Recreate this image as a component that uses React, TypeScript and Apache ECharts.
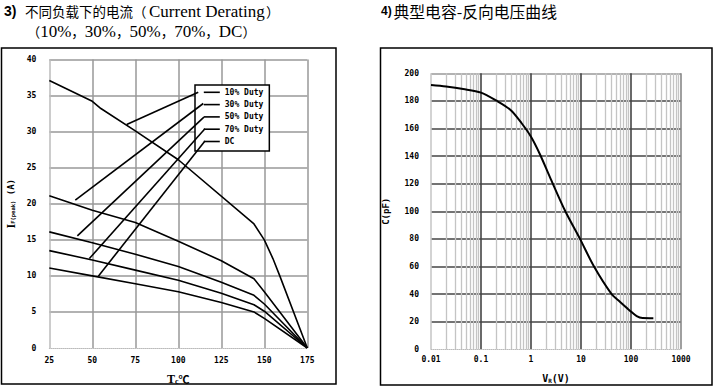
import { useEffect, useRef } from 'react';
import * as echarts from 'echarts';

// ---- Chart 3: current derating ----
const deratingNames = ['10% Duty', '30% Duty', '50% Duty', '70% Duty', 'DC'];
const temp10 = [25, 50, 55, 75, 100, 144, 150, 155, 159, 175];
const duty10 = [37.1, 34.2, 33.2, 30.1, 26.1, 17.2, 15.0, 12.4, 10.0, 0];
const tempOther = [25, 50, 75, 100, 125, 144, 150, 175];
const duty30 = [21.1, 19.1, 17.4, 14.8, 12.1, 9.6, 7.8, 0];
const duty50 = [16.1, 14.6, 13.0, 11.3, 9.1, 7.3, 6.1, 0];
const duty70 = [13.5, 12.2, 10.8, 9.4, 7.6, 6.0, 5.1, 0];
const dutyDC = [11.1, 10.0, 8.9, 7.8, 6.3, 5.0, 4.1, 0];

// leader lines: curve point -> legend entry (Tc, I)
const leaderFromT = [70, 40.1, 41.3, 48.3, 53.5];
const leaderFromI = [31.0, 20.5, 15.55, 12.4, 9.95];
const leaderToT = [111.6, 114.5, 114.9, 115.5, 115.5];
const leaderToI = [35.45, 33.9, 32.0, 30.4, 28.7];

// ---- Chart 4: capacitance vs reverse voltage ----
const capVoltage = [0.01, 0.02, 0.044, 0.1, 0.2, 0.39, 0.65, 1.0, 1.5, 2.4, 4.86, 9.55, 18.2, 41, 60, 95, 130, 170, 280];
const capPF = [191.5, 190.4, 188.6, 186, 180.3, 173.4, 163.8, 154, 141.5, 124.6, 100, 80, 60, 40, 34.5, 28, 24, 22.6, 22.5];
const voltageDecades = [0.01, 0.1, 1, 10, 100];
const minorMultipliers = [2, 3, 4, 5, 6, 7, 8, 9];

const zip = (xs: number[], ys: number[]) => xs.map((x, i) => [x, ys[i]]);
const minorTicks: number[] = [];
voltageDecades.forEach((d) => minorMultipliers.forEach((m) => minorTicks.push(Number((d * m).toPrecision(3)))));

const mono = { fontFamily: 'DejaVu Sans Mono', fontWeight: 'bold' as const, color: '#000', fontSize: 8 };

const deratingX = [temp10, tempOther, tempOther, tempOther, tempOther];
const deratingY = [duty10, duty30, duty50, duty70, dutyDC];

const cjk = { fontFamily: 'Noto Sans CJK SC', fill: '#000' };
const serif = { fontFamily: 'Liberation Serif', fill: '#000' };

const option: any = {
  animation: false,
  backgroundColor: '#fff',
  grid: [
    { left: 49.3, top: 59.5, width: 258, height: 289.8 },
    { left: 431, top: 73.3, width: 250, height: 276 },
  ],
  xAxis: [
    {
      type: 'value', gridIndex: 0, min: 25, max: 175, interval: 25,
      axisLine: { show: true, lineStyle: { color: '#bbb', type: 'dotted', width: 1 } },
      axisTick: { show: false },
      axisLabel: { ...mono, margin: 8 },
      splitLine: { show: true, lineStyle: { color: ['#bbb', '#999', '#999', '#999', '#999', '#999', '#999'], width: 1.5 } },
      name: '{t|T}{s|c}{d|℃}', nameLocation: 'middle', nameGap: 25,
      nameTextStyle: {
        rich: {
          t: { fontFamily: 'Liberation Serif', fontWeight: 'bold', fontSize: 12, color: '#000' },
          s: { fontFamily: 'Liberation Serif', fontWeight: 'bold', fontSize: 8, color: '#000', padding: [4, 0, 0, 0] },
          d: { fontFamily: 'Noto Sans CJK SC', fontWeight: 'bold', fontSize: 11, color: '#000' },
        },
      },
    },
    {
      type: 'log', gridIndex: 1, logBase: 10, min: 0.01, max: 1000,
      axisLine: { show: true, lineStyle: { color: '#bbb', type: 'dotted', width: 1 } },
      axisTick: { show: false },
      axisLabel: { ...mono, margin: 6, formatter: (v: number) => String(Number(v.toPrecision(3))) },
      splitLine: { show: true, lineStyle: { color: ['#c8c8c8', '#444', '#444', '#444', '#444', '#888'], width: 1.6 } },
      name: '{v|V}{s|R}{p|(V)}', nameLocation: 'middle', nameGap: 24,
      nameTextStyle: {
        rich: {
          v: { ...mono, fontSize: 10 },
          s: { ...mono, fontSize: 6, padding: [4, 0, 0, 0] },
          p: { ...mono, fontSize: 10 },
        },
      },
    },
  ],
  yAxis: [
    {
      type: 'value', gridIndex: 0, min: 0, max: 40, interval: 5,
      axisLine: { show: false }, axisTick: { show: false },
      axisLabel: { ...mono, margin: 13 },
      splitLine: { show: true, lineStyle: { color: ['rgba(0,0,0,0)', '#999', '#999', '#999', '#999', '#999', '#999', '#999', '#999'], width: 1.5 } },
      name: '{i|I}{s|F(peak)}{a| (A)}', nameLocation: 'middle', nameGap: 32, nameRotate: 90,
      nameTextStyle: {
        rich: {
          i: { fontFamily: 'Liberation Serif', fontWeight: 'bold', fontSize: 12, color: '#000' },
          s: { ...mono, fontSize: 5.5, padding: [4, 0, 0, 0] },
          a: { ...mono, fontSize: 9 },
        },
      },
    },
    {
      type: 'value', gridIndex: 1, min: 0, max: 200, interval: 20,
      axisLine: { show: false }, axisTick: { show: false },
      axisLabel: { ...mono, margin: 12 },
      splitLine: { show: true, lineStyle: { color: ['rgba(0,0,0,0)', '#444', '#444', '#444', '#444', '#444', '#444', '#444', '#444', '#444', '#999'], width: 1.6 } },
      name: 'C(pF)', nameLocation: 'middle', nameGap: 41, nameRotate: 90,
      nameTextStyle: { ...mono, fontSize: 9 },
    },
  ],
  legend: {
    data: deratingNames,
    orient: 'vertical',
    left: 195, top: 85,
    itemWidth: 16, itemHeight: 8, itemGap: 4.3,
    padding: [3.3, 6, 5.5, 8],
    borderColor: '#000', borderWidth: 1.5,
    backgroundColor: '#fff',
    selectedMode: false,
    itemStyle: { opacity: 0 },
    lineStyle: { color: '#000', width: 1.6 },
    textStyle: { ...mono },
  },
  graphic: [
    { type: 'rect', shape: { x: 1.5, y: 48, width: 334.5, height: 336 }, style: { fill: 'none', stroke: '#000', lineWidth: 1.5 }, silent: true },
    { type: 'rect', shape: { x: 380.5, y: 48, width: 331.5, height: 337 }, style: { fill: 'none', stroke: '#000', lineWidth: 1.5 }, silent: true },
    // left title, line 1
    { type: 'text', x: 4, y: 11, style: { text: '3)', fontFamily: 'Liberation Sans', fontWeight: 'bold', fontSize: 14, fill: '#000', verticalAlign: 'middle' } },
    { type: 'text', x: 25, y: 11, style: { ...cjk, text: '不同负载下的电流（', fontSize: 13.5, verticalAlign: 'middle' } },
    { type: 'text', x: 149, y: 11, style: { ...serif, text: 'Current Derating', fontSize: 17, verticalAlign: 'middle' } },
    { type: 'text', x: 266, y: 11, style: { ...cjk, text: '）', fontSize: 13.5, verticalAlign: 'middle' } },
    // left title, line 2
    {
      type: 'text', x: 26.7, y: 31,
      style: {
        text: '{c|（}{l|10%}{c|，}{l|30%}{c|，}{l|50%}{c|，}{l|70%}{c|，}{l|DC}{c|）}',
        verticalAlign: 'middle',
        rich: {
          c: { ...cjk, fontSize: 13.5 },
          l: { ...serif, fontSize: 17 },
        },
      },
    },
    // right title
    { type: 'text', x: 381, y: 11, style: { text: '4)', fontFamily: 'Liberation Sans', fontWeight: 'bold', fontSize: 12, fill: '#000', verticalAlign: 'middle' } },
    { type: 'text', x: 393.5, y: 11, style: { ...cjk, text: '典型电容-反向电压曲线', fontSize: 15.8, verticalAlign: 'middle' } },
  ],
  series: [
    ...deratingNames.map((name, k) => ({
      type: 'line', name, xAxisIndex: 0, yAxisIndex: 0,
      data: zip(deratingX[k], deratingY[k]),
      symbol: 'none', silent: true,
      lineStyle: { color: '#000', width: 1.6 },
      itemStyle: { color: '#000' },
      z: 3,
    })),
    ...leaderFromT.map((t, k) => ({
      type: 'line', name: 'leader' + k, xAxisIndex: 0, yAxisIndex: 0,
      data: [[t, leaderFromI[k]], [leaderToT[k], leaderToI[k]]],
      symbol: 'none', silent: true,
      lineStyle: { color: '#000', width: 1.6 },
      z: 6,
    })),
    {
      type: 'line', name: 'minorGrid', xAxisIndex: 1, yAxisIndex: 1, data: [],
      symbol: 'none', silent: true,
      markLine: {
        silent: true, symbol: 'none', z: 0,
        label: { show: false },
        lineStyle: { color: '#c4c4c4', width: 1.3, type: 'solid' },
        data: minorTicks.map((v) => ({ xAxis: v })),
      },
    },
    {
      type: 'line', name: 'C', xAxisIndex: 1, yAxisIndex: 1,
      data: zip(capVoltage, capPF),
      smooth: 0.3, symbol: 'none', silent: true,
      lineStyle: { color: '#000', width: 2 },
      z: 5,
    },
  ],
};

export default function App() {
  const ref = useRef<HTMLDivElement>(null);
  useEffect(() => {
    const chart = echarts.init(ref.current!, null, { renderer: 'svg' });
    chart.setOption(option);
    return () => chart.dispose();
  }, []);
  return (
    <div
      ref={ref}
      style={{ position: 'absolute', left: 0, top: 0, width: 715, height: 390, background: '#fff' }}
    />
  );
}
